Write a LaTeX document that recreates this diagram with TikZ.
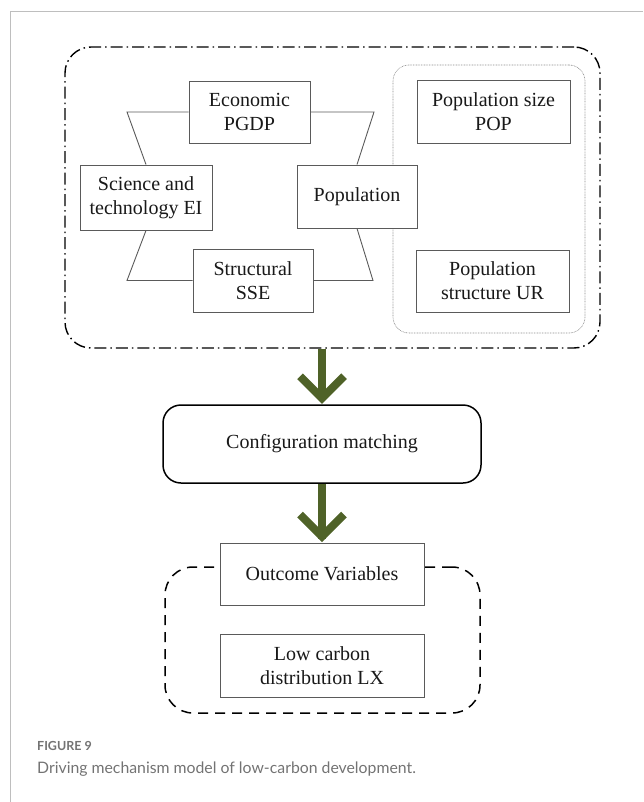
\documentclass[tikz,border=0pt]{standalone}
\usepackage{fontspec}
\setmainfont{Liberation Serif}
\newfontfamily\capfont{Lato}
\usetikzlibrary{calc}
\definecolor{olivearrow}{RGB}{79,98,40}
\definecolor{framegray}{RGB}{190,190,190}
\definecolor{boxgray}{RGB}{90,90,90}
\definecolor{capgray}{RGB}{115,115,115}
\tikzset{
  txt/.style={font=\fontsize{20}{24}\selectfont, text=black!90, align=center, inner sep=0pt},
  varbox/.style={txt, draw=boxgray, line width=0.9pt, fill=white},
  hexline/.style={draw=boxgray, line width=0.9pt},
  groupdashdot/.style={draw=black, line width=1.4pt, rounded corners=26pt,
    dash pattern=on 12pt off 4pt on 1.5pt off 4pt},
  groupdotted/.style={draw=black!45, line width=0.6pt, rounded corners=16pt,
    dash pattern=on 0.8pt off 0.8pt},
  groupdashed/.style={draw=black, line width=1.5pt, rounded corners=28pt,
    dash pattern=on 10pt off 7pt},
  roundbox/.style={txt, draw=black, line width=1.5pt, fill=white, rounded corners=18pt},
  flowshaft/.style={draw=olivearrow, line width=8pt},
  flowhead/.style={draw=olivearrow, line width=8pt, miter limit=10},
}
\begin{document}
\begin{tikzpicture}[x=1pt,y=-1pt]
\useasboundingbox (0,0) rectangle (643,802);
% page frame (top and left rule only)
\draw[framegray, line width=1pt] (10,802) -- (10,12) -- (643,12);

% group outlines
\node[groupdashdot, minimum width=535pt, minimum height=301pt] (drivers) at (332.5,197.5) {};
\node[groupdotted, minimum width=192pt, minimum height=268pt] (popgroup) at (489,199) {};
\node[groupdashed, minimum width=315pt, minimum height=146pt] (outgroup) at (322.5,640) {};

% driving factors
\node[varbox, minimum width=121pt, minimum height=62pt] (econ) at (249.5,112) {Economic\\PGDP};
\node[varbox, minimum width=132pt, minimum height=65pt] (sci) at (146,197.5) {Science and\\technology EI};
\node[varbox, minimum width=120pt, minimum height=63pt] (struct) at (253,280.5) {Structural\\SSE};
\node[varbox, minimum width=120pt, minimum height=63pt] (popn) at (357,196.5) {Population};
\node[varbox, minimum width=153pt, minimum height=63pt] (popsize) at (493.5,111.5) {Population size\\POP};
\node[varbox, minimum width=153pt, minimum height=62pt] (popstruct) at (492.5,281) {Population\\structure UR};

% hexagonal ring linking the factors
\draw[hexline] (econ.west) -- (127,112) -- (sci.north);
\draw[hexline] (econ.east) -- (374,112) -- (popn.north);
\draw[hexline] (sci.south) -- (127,280.5) -- (struct.west);
\draw[hexline] (struct.east) -- (373,280.5) -- (popn.south);

% configuration step
\node[roundbox, minimum width=318pt, minimum height=78pt] (config) at (322,444) {Configuration matching};

% outcome
\node[varbox, minimum width=204pt, minimum height=62pt] (outcome) at (322,574) {Outcome Variables};
\node[varbox, minimum width=204pt, minimum height=63pt] (lowc) at (322,665.5) {Low carbon\\distribution LX};

% flow arrows
\draw[flowshaft] (drivers.south -| config.north) -- ([yshift=4pt]config.north);
\draw[flowhead] ([xshift=-22pt,yshift=28pt]config.north) -- ([yshift=6pt]config.north) -- ([xshift=22pt,yshift=28pt]config.north);
\draw[flowshaft] (config.south) -- ([yshift=4pt]outcome.north);
\draw[flowhead] ([xshift=-22pt,yshift=28pt]outcome.north) -- ([yshift=6pt]outcome.north) -- ([xshift=22pt,yshift=28pt]outcome.north);

% caption
\node[anchor=base west, inner sep=0pt, text=capgray, font=\capfont\bfseries\fontsize{12.5}{15}\selectfont] (figlabel) at (37,750) {FIGURE 9};
\node[anchor=base west, inner sep=0pt, text=capgray, font=\capfont\fontsize{15.8}{19}\selectfont] (figcaption) at (37,773) {Driving mechanism model of low-carbon development.};
\end{tikzpicture}
\end{document}
